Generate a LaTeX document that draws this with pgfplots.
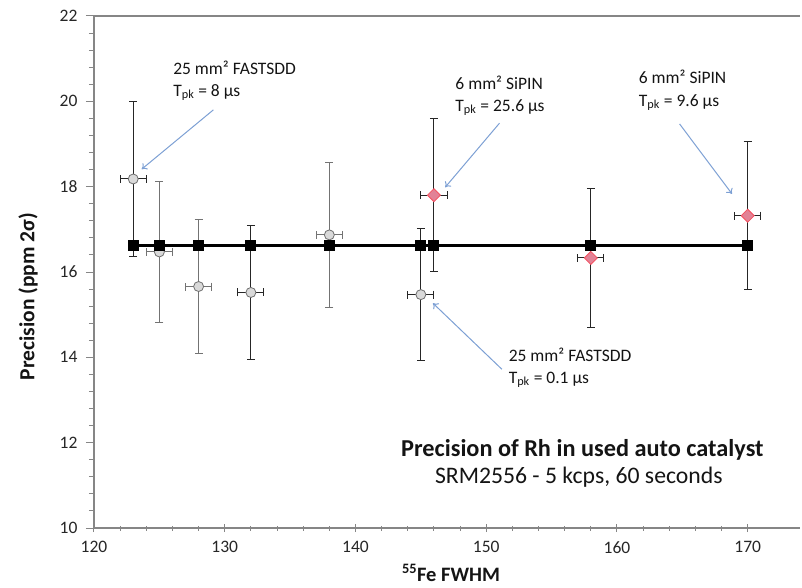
\documentclass[border=0pt]{standalone}
\usepackage{pgfplots}
\pgfplotsset{compat=1.18}
\usepackage{fontspec}
\setmainfont{Carlito}
\usetikzlibrary{calc,arrows.meta}
\definecolor{axgray}{RGB}{134,134,134}
\definecolor{circfill}{RGB}{217,217,217}
\definecolor{circedge}{RGB}{110,110,110}
\definecolor{diafill}{RGB}{226,130,150}
\definecolor{diaedge}{RGB}{245,80,95}
\definecolor{arrowblue}{RGB}{125,160,212}
\definecolor{txt}{RGB}{20,20,20}
\begin{document}
\begin{tikzpicture}
\begin{axis}[
  name=ax,
  scale only axis, width=706pt, height=512pt,
  xmin=120, xmax=174, ymin=10, ymax=22,
  axis lines*=left,
  axis line style={axgray, line width=1.2pt},
  xtick={120,130,...,170}, ytick={10,12,...,22},
  minor x tick num=4, minor y tick num=4,
  xtick align=center, ytick align=outside,
  major tick length=8pt, minor tick length=5pt,
  tick style={axgray, line width=1pt},
  every tick label/.append style={font=\fontsize{17.5}{17.5}\selectfont, text=black!85},
  xticklabel style={yshift=-6pt},
  yticklabel style={xshift=-5pt},
  /pgf/number format/assume math mode=true,
  clip=false,
  xlabel={\textbf{\textsuperscript{55}Fe FWHM}},
  ylabel={\textbf{Precision (ppm 2σ)}},
  xlabel style={at={(axis description cs:0.5057,-0.1035)}, anchor=base, font=\fontsize{20.5}{20.5}\selectfont, text=txt},
  ylabel style={at={(axis description cs:-0.0935,0.452)}, anchor=center, rotate=0, font=\fontsize{21.5}{21.5}\selectfont, text=txt},
]
\draw[axgray, line width=1.2pt] (rel axis cs:0,1) -- (rel axis cs:1,1);

% circles with gray error bars
\addplot[only marks, mark=*, mark size=5pt, mark options={fill=circfill, draw=circedge, line width=0.8pt},
  error bars/.cd, x dir=both, x explicit, y dir=both, y explicit,
  error bar style={line width=1pt, black!55},
  error mark options={rotate=90, mark size=4pt, line width=1pt, black!55}]
  coordinates {(125,16.47)+-(1,1.65) (128,15.66)+-(1,1.57) (138,16.87)+-(1,1.70)};
% circles with dark error bars
\addplot[only marks, mark=*, mark size=5pt, mark options={fill=circfill, draw=circedge, line width=0.8pt},
  error bars/.cd, x dir=both, x explicit, y dir=both, y explicit,
  error bar style={line width=1pt, black!85},
  error mark options={rotate=90, mark size=4pt, line width=1pt, black!85}]
  coordinates {(123,18.18)+-(1,1.82) (132,15.52)+-(1,1.57) (145,15.47)+-(1,1.55)};
% diamonds
\addplot[only marks, mark=square*, mark size=4.6pt, mark options={rotate=45, fill=diafill, draw=diaedge, line width=0.8pt},
  error bars/.cd, x dir=both, x explicit, y dir=both, y explicit,
  error bar style={line width=1pt, black!85},
  error mark options={rotate=90, mark size=4pt, line width=1pt, black!85}]
  coordinates {(146,17.80)+-(1,1.79) (158,16.33)+-(1,1.63) (170,17.32)+-(1,1.73)};
% mean line
\addplot[black, line width=3.5pt, mark=square*, mark size=5pt, mark options={black, line width=0pt}]
  coordinates {(123,16.62) (125,16.62) (128,16.62) (132,16.62) (138,16.62) (145,16.62) (146,16.62) (158,16.62) (170,16.62)};

% annotations
\begin{scope}[every node/.style={font=\fontsize{17.5}{17.5}\selectfont, text=txt, inner sep=0pt}]
\node[anchor=base west] at (axis cs:126.05,20.62) {25 mm² FASTSDD};
\node[anchor=base west] at (axis cs:126.05,20.12) {T\textsubscript{pk} = 8 µs};
\node[anchor=base west] at (axis cs:147.63,20.28) {6 mm² SiPIN};
\node[anchor=base west] at (axis cs:147.63,19.77) {T\textsubscript{pk} = 25.6 µs};
\node[anchor=base west] at (axis cs:161.66,20.41) {6 mm² SiPIN};
\node[anchor=base west] at (axis cs:161.66,19.89) {T\textsubscript{pk} = 9.6 µs};
\node[anchor=base west] at (axis cs:151.71,13.90) {25 mm² FASTSDD};
\node[anchor=base west] at (axis cs:151.71,13.39) {T\textsubscript{pk} = 0.1 µs};
\node[anchor=base, font=\fontsize{24.3}{24.3}\selectfont\bfseries] at (axis cs:157.35,11.67) {Precision of Rh in used auto catalyst};
\node[anchor=base, font=\fontsize{23.7}{23.7}\selectfont] at (axis cs:157.08,11.05) {SRM2556 - 5 kcps, 60 seconds};
\end{scope}
\begin{scope}[arrowblue, line width=1pt, -{To[length=5pt,width=8pt]}]
\draw (axis cs:129.13,19.80) -- (axis cs:123.65,18.41);
\draw (axis cs:151.02,19.49) -- (axis cs:146.86,17.985);
\draw (axis cs:164.79,19.47) -- (axis cs:168.80,17.83);
\draw (axis cs:151.20,13.72) -- (axis cs:145.92,15.27);
\end{scope}
\end{axis}
\pgfresetboundingbox
\path (ax.south west) ++(-94pt,-59pt) coordinate (bbll);
\path (ax.north east) ++(2pt,16pt) coordinate (bbur);
\path[use as bounding box] (bbll) rectangle (bbur);
\end{tikzpicture}
\end{document}
